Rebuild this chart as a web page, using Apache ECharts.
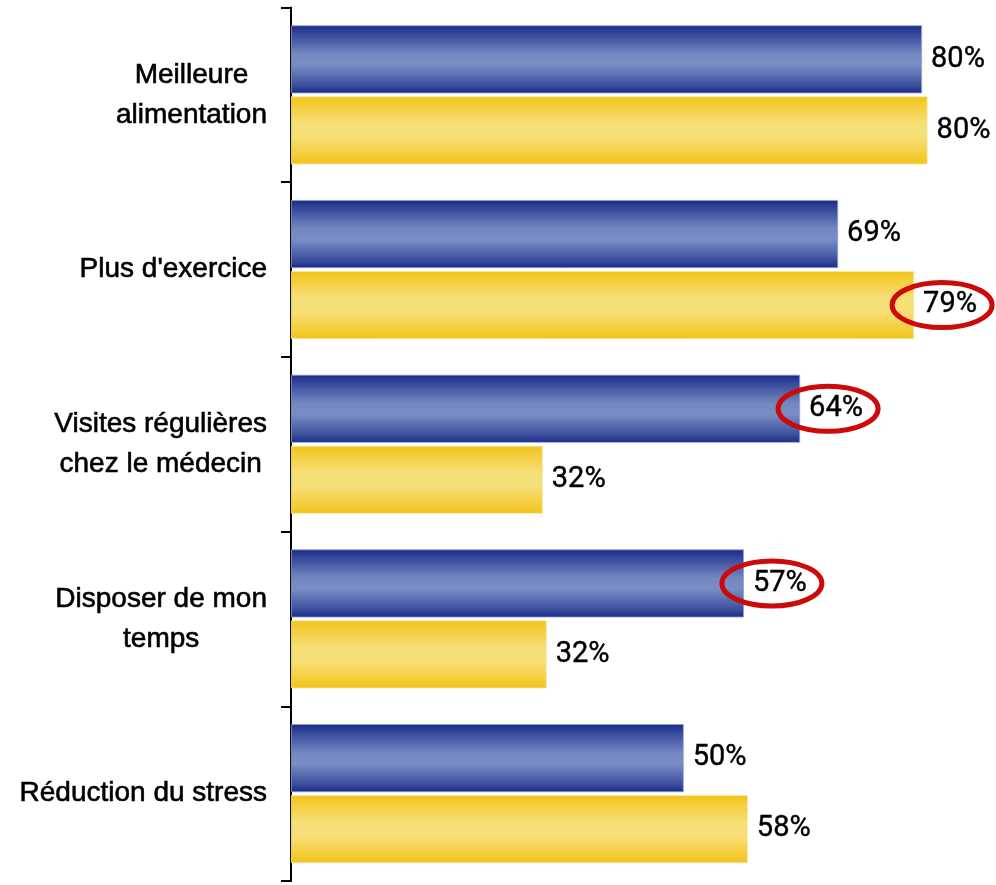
<!DOCTYPE html>
<html>
<head>
<meta charset="utf-8">
<script src="https://cdn.jsdelivr.net/npm/echarts@6/dist/echarts.min.js"></script>
<style>
  html, body { margin: 0; padding: 0; background: #fff; }
  #chart { width: 996px; height: 885px; }
</style>
</head>
<body>
<div id="chart"></div>
<script>
const categories = [
  'Meilleure\nalimentation',
  "Plus d'exercice",
  'Visites régulières\nchez le médecin',
  'Disposer de mon\ntemps',
  'Réduction du stress'
]
const blueValues = [79.7, 69.1, 64.3, 57.2, 49.6]
const yellowValues = [80.4, 78.7, 31.8, 32.3, 57.7]
// circled labels: [series index, category index]
const circled = [[1, 1], [0, 2], [0, 3]]

const BAR_WIDTH = 68
const BAR_GAP = 3

const chart = echarts.init(document.getElementById('chart'))

const blueFill = new echarts.graphic.LinearGradient(0, 0, 0, 1, [
  { offset: 0, color: '#1a2a86' },
  { offset: 0.12, color: '#34479a' },
  { offset: 0.42, color: '#7487c0' },
  { offset: 0.58, color: '#7a8ec5' },
  { offset: 0.88, color: '#3c4f9e' },
  { offset: 1, color: '#1a2a86' }
])
const yellowFill = new echarts.graphic.LinearGradient(0, 0, 0, 1, [
  { offset: 0, color: '#f2c419' },
  { offset: 0.4, color: '#f7df78' },
  { offset: 0.6, color: '#f7df78' },
  { offset: 1, color: '#f2c419' }
])

const valueLabel = {
  show: true,
  position: 'right',
  distance: 9,
  color: '#000',
  fontFamily: 'Roboto, "Liberation Sans", sans-serif',
  fontSize: 29,
  textBorderColor: '#000',
  textBorderWidth: 0.4,
  formatter: (p) => Math.round(p.value) + '%'
}

const allValues = [blueValues, yellowValues]

const option = {
  animation: false,
  grid: { left: 291, top: 7.5, bottom: 4, right: 32 },
  xAxis: {
    type: 'value',
    min: 0,
    max: 85,
    show: false
  },
  yAxis: {
    type: 'category',
    inverse: true,
    data: categories,
    axisLine: { lineStyle: { color: '#000', width: 2 } },
    axisTick: { show: true, length: 10, lineStyle: { color: '#000', width: 2 } },
    axisLabel: {
      margin: 24,
      color: '#000',
      fontFamily: '"Liberation Sans", Arial, sans-serif',
      fontSize: 28,
      lineHeight: 40,
      formatter: (v) => v.split('\n').map((l) => '{c|' + l + '}').join('\n'),
      rich: {
        c: {
          align: 'center',
          fontSize: 28,
          lineHeight: 40,
          fontFamily: '"Liberation Sans", Arial, sans-serif',
          color: '#000',
          textBorderColor: '#000',
          textBorderWidth: 0.6
        }
      }
    }
  },
  series: [
    {
      name: 'Série 1',
      type: 'bar',
      barWidth: BAR_WIDTH,
      barGap: (BAR_GAP / BAR_WIDTH * 100) + '%',
      data: blueValues,
      itemStyle: { color: blueFill, borderColor: '#8e9fd2', borderWidth: 0.8 },
      label: valueLabel
    },
    {
      name: 'Série 2',
      type: 'bar',
      barWidth: BAR_WIDTH,
      data: yellowValues,
      itemStyle: { color: yellowFill, borderColor: '#f8e9a8', borderWidth: 0.8 },
      label: valueLabel
    },
    {
      name: 'circled',
      type: 'custom',
      clip: false,
      z: 5,
      data: circled.map(([s, c]) => [allValues[s][c], c, s]),
      renderItem: (params, api) => {
        const p = api.coord([api.value(0), api.value(1)])
        const off = (api.value(2) === 0 ? -1 : 1) * (BAR_WIDTH + BAR_GAP) / 2
        return {
          type: 'ellipse',
          shape: { cx: p[0] + 28, cy: p[1] + off, rx: 50, ry: 22.5 },
          style: { fill: 'none', stroke: '#cc0a0a', lineWidth: 5 }
        }
      }
    }
  ]
}

chart.setOption(option)
</script>
</body>
</html>
